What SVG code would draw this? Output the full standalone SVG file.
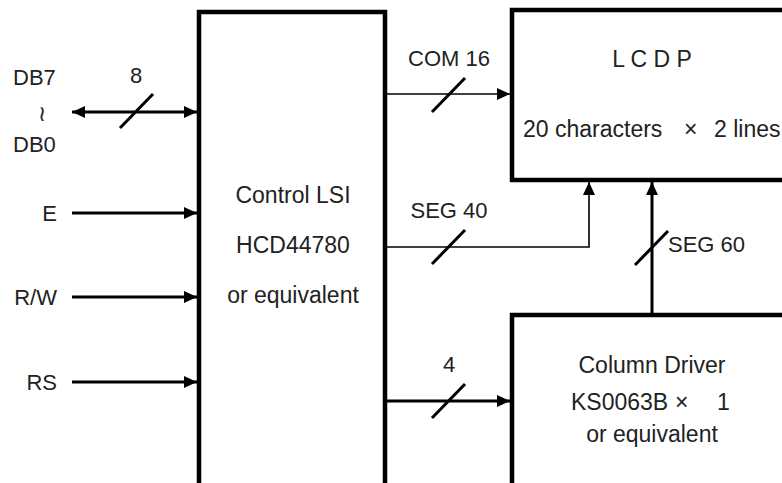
<svg xmlns="http://www.w3.org/2000/svg" width="782" height="483" viewBox="0 0 782 483">
<style>
text{font-family:"Liberation Sans",Arial,sans-serif;font-size:22px;fill:#222}
.n{font-size:23px}
.box{fill:#fff;stroke:#000;stroke-width:4.5}
.thick{stroke:#000;stroke-width:3;fill:none}
.thin{stroke:#000;stroke-width:1.6;fill:none}
.slash{stroke:#000;stroke-width:3;stroke-linecap:butt}
.m{text-anchor:middle}
.e{text-anchor:end}
</style>
<defs>
<marker id="ah" markerUnits="userSpaceOnUse" markerWidth="14" markerHeight="14" viewBox="0 0 14 14" refX="13" refY="7" orient="auto-start-reverse">
<path d="M0,1 L13,7 L0,13 Z" fill="#000"/>
</marker>
</defs>
<g id="control-lsi">
<rect class="box" x="199" y="12" width="186" height="490"/>
<text class="m n" x="293" y="203">Control LSI</text>
<text class="m n" x="293" y="253">HCD44780</text>
<text class="m n" x="293" y="303">or equivalent</text>
</g>
<g id="lcdp">
<rect class="box" x="512" y="10" width="300" height="170"/>
<text class="m n" x="652" y="67">L C D P</text>
<text class="n" y="137"><tspan x="523">20 characters</tspan><tspan x="684">×</tspan><tspan x="714">2 lines</tspan></text>
</g>
<g id="column-driver">
<rect class="box" x="512" y="315" width="300" height="200"/>
<text class="m n" x="652" y="373">Column Driver</text>
<text class="n" y="410"><tspan x="571">KS0063B</tspan><tspan x="675">×</tspan><tspan x="717">1</tspan></text>
<text class="m n" x="652" y="442">or equivalent</text>
</g>
<g id="signals">
<text x="13" y="85">DB7</text>
<text x="42" y="121" font-family="DejaVu Sans" font-size="24" class="m">≀</text>
<text x="13" y="152">DB0</text>
<text class="e" x="57" y="221">E</text>
<text class="e" x="57" y="305">R/W</text>
<text class="e" x="57" y="390">RS</text>
</g>
<g id="connectors">
<line class="thick" x1="72" y1="112" x2="197" y2="112" marker-start="url(#ah)" marker-end="url(#ah)"/>
<line class="slash" x1="120" y1="128" x2="153" y2="94"/>
<text class="m" x="136" y="83">8</text>
<line class="thick" x1="72" y1="213" x2="197" y2="213" marker-end="url(#ah)"/>
<line class="thick" x1="72" y1="297" x2="197" y2="297" marker-end="url(#ah)"/>
<line class="thick" x1="72" y1="382" x2="197" y2="382" marker-end="url(#ah)"/>
<line class="thin" x1="387" y1="94" x2="510" y2="94" marker-end="url(#ah)"/>
<line class="slash" x1="432" y1="112" x2="465" y2="78"/>
<text class="m" x="449" y="66">COM 16</text>
<polyline class="thin" points="387,247 589,247 589,182" marker-end="url(#ah)"/>
<line class="slash" x1="432" y1="264" x2="465" y2="230"/>
<text class="m" x="449" y="218">SEG 40</text>
<line class="thick" x1="652" y1="313" x2="652" y2="182" marker-end="url(#ah)"/>
<line class="slash" x1="635" y1="265" x2="668" y2="231"/>
<text x="668" y="252">SEG 60</text>
<line class="thick" x1="387" y1="401" x2="510" y2="401" marker-end="url(#ah)"/>
<line class="slash" x1="432" y1="418" x2="465" y2="384"/>
<text class="m" x="449" y="372">4</text>
</g>
</svg>
